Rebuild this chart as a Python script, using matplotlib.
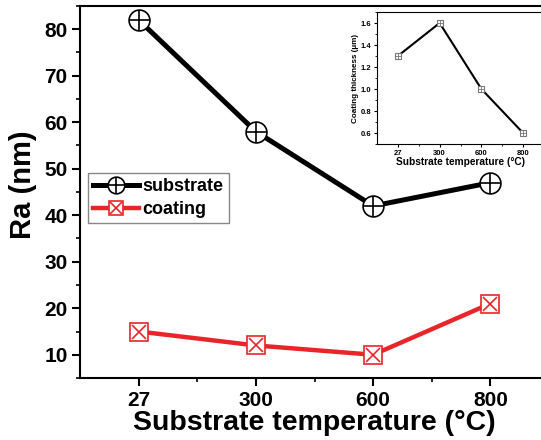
import matplotlib
matplotlib.use("Agg")
import matplotlib.pyplot as plt
from matplotlib.ticker import MultipleLocator, FixedLocator
from matplotlib.lines import Line2D

plt.rcParams['font.family'] = ['Liberation Sans', 'DejaVu Sans']
plt.rcParams['font.weight'] = 'bold'

temps = ['27', '300', '600', '800']
substrate = [82, 58, 42, 47]
coating = [15, 12, 10, 21]
thickness = [1.3, 1.6, 1.0, 0.6]

x = list(range(len(temps)))
red = '#e8262a'

fig = plt.figure(figsize=(5.41, 4.40), dpi=100)
ax = fig.add_axes([80/541, 1-378/440, (549-80)/541, (378-6)/440])

ax.plot(x, substrate, color='black', lw=3.6, zorder=3)
ax.plot(x, substrate, ls='none', marker='o', ms=15, mfc='white', mec='black', mew=1.2, zorder=4)
ax.plot(x, substrate, ls='none', marker='+', ms=15, mec='black', mew=1.2, zorder=5)

ax.plot(x, coating, color=red, lw=3.2, zorder=3)
ax.plot(x, coating, ls='none', marker='s', ms=13, mfc='white', mec=red, mew=1.2, zorder=4)
ax.plot(x, coating, ls='none', marker='x', ms=10, mec=red, mew=1.2, zorder=5)

ax.set_xlim(-0.5, 3.5)
ax.set_ylim(5, 85)
ax.set_xticks(x)
ax.set_xticklabels(temps)
ax.xaxis.set_minor_locator(FixedLocator([0.5, 1.5, 2.5]))
ax.set_yticks([10, 20, 30, 40, 50, 60, 70, 80])
ax.yaxis.set_minor_locator(MultipleLocator(5))
ax.tick_params(axis='both', which='major', direction='out', length=6, width=1.5, labelsize=15, pad=3)
ax.tick_params(axis='both', which='minor', direction='out', length=3, width=1.2)
for lab in ax.get_xticklabels() + ax.get_yticklabels():
    lab.set_fontweight('bold')
for s in ax.spines.values():
    s.set_linewidth(1.5)
ax.set_xlabel('Substrate temperature (°C)', fontsize=20.5, fontweight='bold', labelpad=0)
ax.set_ylabel('Ra (nm)', fontsize=21, fontweight='bold')
ax.yaxis.set_label_coords(-0.092, 0.52)

h_sub = (Line2D([], [], color='black', lw=3.6),
         Line2D([], [], ls='none', marker='o', ms=12, mfc='white', mec='black', mew=1.2),
         Line2D([], [], ls='none', marker='+', ms=12, mec='black', mew=1.2))
h_coat = (Line2D([], [], color=red, lw=3.2),
          Line2D([], [], ls='none', marker='s', ms=10, mfc='white', mec=red, mew=1.2),
          Line2D([], [], ls='none', marker='x', ms=8, mec=red, mew=1.2))
leg = ax.legend([h_sub, h_coat], ['substrate', 'coating'], loc='upper left',
                bbox_to_anchor=(0.017, 0.551), borderaxespad=0, fancybox=False,
                framealpha=1, edgecolor='#888888', prop={'size': 13, 'weight': 'bold'},
                handlelength=2.5, handletextpad=0.2, borderpad=0.3, labelspacing=0.3)

# inset
ins = fig.add_axes([377/541, 1-144/440, (544-377)/541, (144-12)/440])
ins.plot(x, thickness, color='black', lw=1.5, zorder=3)
ins.plot(x, thickness, ls='none', marker='s', ms=5, mfc='white', mec='#777777', mew=0.8, zorder=4)
ins.plot(x, thickness, ls='none', marker='+', ms=5, mec='#777777', mew=0.6, zorder=5)
ins.set_xlim(-0.5, 3.5)
ins.set_ylim(0.5, 1.7)
ins.set_xticks(x)
ins.set_xticklabels(temps)
ins.xaxis.set_minor_locator(FixedLocator([0.5, 1.5, 2.5]))
ins.set_yticks([0.6, 0.8, 1.0, 1.2, 1.4, 1.6])
ins.yaxis.set_minor_locator(MultipleLocator(0.1))
ins.tick_params(axis='both', which='major', direction='out', length=2.5, width=0.8, labelsize=5.5, pad=1.5)
ins.tick_params(axis='both', which='minor', direction='out', length=1.5, width=0.6)
for lab in ins.get_xticklabels() + ins.get_yticklabels():
    lab.set_fontweight('bold')
for s in ins.spines.values():
    s.set_linewidth(0.8)
ins.set_xlabel('Substrate temperature (°C)', fontsize=7.3, fontweight='bold', labelpad=0)
ins.set_ylabel('Coating thickness (μm)', fontsize=5.8, fontweight='bold', labelpad=1)

fig.savefig('out.png', dpi=100)
